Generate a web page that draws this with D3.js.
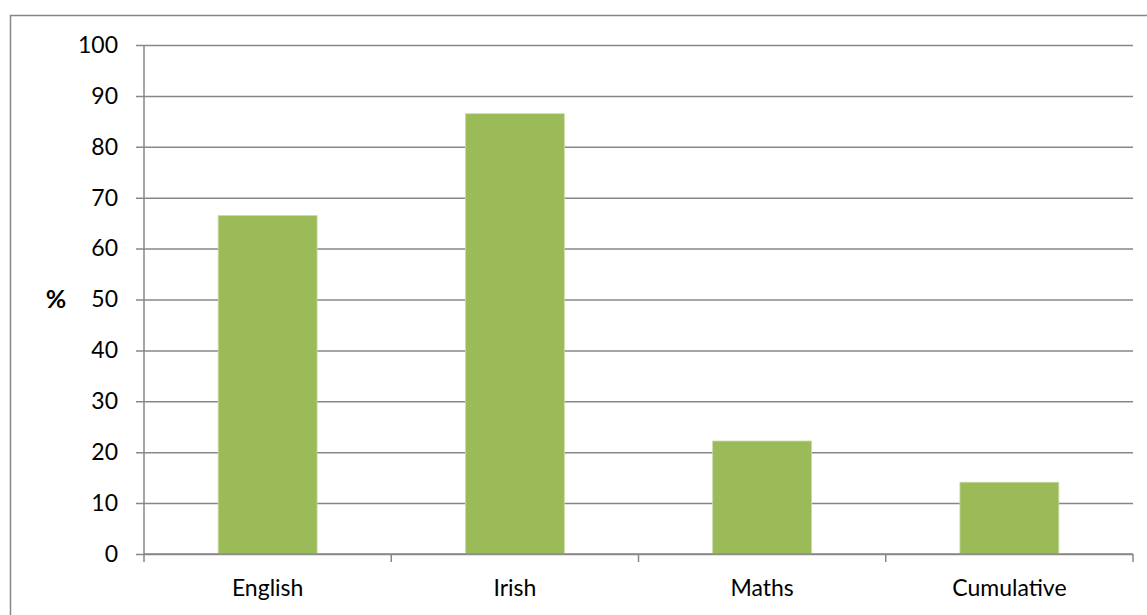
<!DOCTYPE html>
<html>
<head>
<meta charset="utf-8">
<script src="https://cdn.jsdelivr.net/npm/d3@7"></script>
<style>
  html, body { margin: 0; padding: 0; background: #fff; }
  svg { display: block; }
  text { font-family: Lato, "Open Sans", sans-serif; fill: #000; }
</style>
</head>
<body>
<svg id="chart" width="1147" height="615"></svg>
<script>
// Subjects and percentage values
const categories = ["English", "Irish", "Maths", "Cumulative"];
const values = [66.5, 86.5, 22.2, 14.1];
const yTicks = [0, 10, 20, 30, 40, 50, 60, 70, 80, 90, 100];
const yLabel = "%";

const svg = d3.select("#chart");
const W = 1147, H = 615;
const plot = { left: 144, right: 1133, top: 45, bottom: 554 };
const gridColor = "#878787";

// Outer chart frame
svg.append("rect")
  .attr("x", 10.5).attr("y", 15.5)
  .attr("width", W + 20).attr("height", H + 20)
  .attr("fill", "none").attr("stroke", gridColor).attr("stroke-width", 1.5);

const x = d3.scaleBand().domain(categories)
  .range([plot.left, plot.right]).paddingInner(0.6).paddingOuter(0.3);
const xBand = d3.scaleBand().domain(categories)
  .range([plot.left, plot.right]).padding(0);
const y = d3.scaleLinear().domain([0, 100]).range([plot.bottom, plot.top]);

// Horizontal gridlines with left tick marks
const yAxis = d3.axisLeft(y).tickValues(yTicks)
  .tickSize(-(plot.right - plot.left)).tickPadding(26).tickSizeOuter(0);
const gy = svg.append("g").attr("transform", `translate(${plot.left},0)`).call(yAxis);
gy.select(".domain").remove();
gy.selectAll(".tick line")
  .attr("x1", -8)
  .attr("stroke", gridColor).attr("stroke-width", 1.5);
gy.selectAll(".tick text")
  .attr("font-size", 23).attr("font-family", "Lato, sans-serif").attr("fill", "#000");

// Vertical axis line
svg.append("line")
  .attr("x1", plot.left).attr("x2", plot.left)
  .attr("y1", y(100)).attr("y2", y(0))
  .attr("stroke", gridColor).attr("stroke-width", 1.5);

// Bars
svg.append("g").selectAll("rect").data(values).join("rect")
  .attr("x", (d, i) => x(categories[i]))
  .attr("y", d => y(d))
  .attr("width", x.bandwidth())
  .attr("height", d => y(0) - y(d))
  .attr("fill", "#9BBB59")
  .attr("stroke", "#c9dba3").attr("stroke-width", 0.8);

// Category axis with tick marks at band boundaries
const gx = svg.append("g").attr("transform", `translate(0,${plot.bottom})`);
gx.append("line")
  .attr("x1", plot.left).attr("x2", plot.right)
  .attr("stroke", gridColor).attr("stroke-width", 1.5);
const boundaries = categories.map(c => xBand(c)).concat([plot.right]);
gx.selectAll("line.tk").data(boundaries).join("line")
  .attr("class", "tk")
  .attr("x1", d => d).attr("x2", d => d)
  .attr("y1", 0).attr("y2", 8)
  .attr("stroke", gridColor).attr("stroke-width", 1.5);
gx.selectAll("text").data(categories).join("text")
  .attr("x", d => xBand(d) + xBand.bandwidth() / 2)
  .attr("y", 42)
  .attr("text-anchor", "middle")
  .attr("font-size", 23)
  .text(d => d);

// Axis title
svg.append("text")
  .attr("x", 56).attr("y", y(50))
  .attr("dy", "0.35em")
  .attr("text-anchor", "middle")
  .attr("font-family", "'Open Sans', sans-serif")
  .attr("font-size", 25).attr("font-weight", "bold")
  .text(yLabel);
</script>
</body>
</html>
